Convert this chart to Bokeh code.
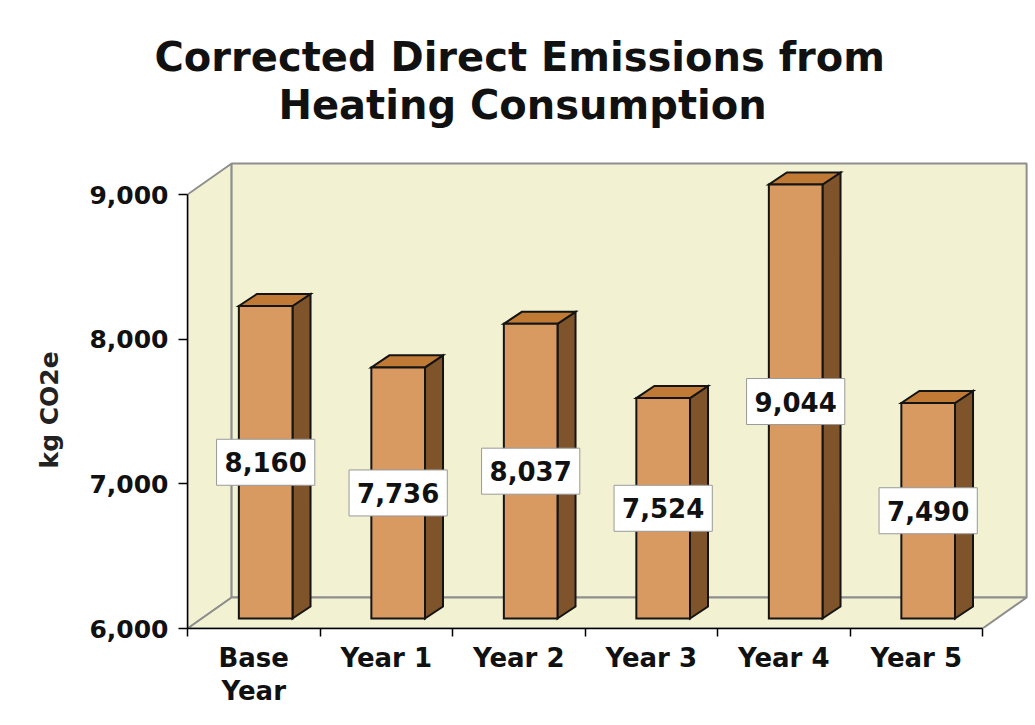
from bokeh.plotting import figure
from bokeh.models import (Range1d, FixedTicker, NumeralTickFormatter, LinearAxis,
                          Title, ColumnDataSource)
from bokeh.core.properties import value
from bokeh.embed import file_html
from bokeh.resources import INLINE

# ---------------- data ----------------
title_lines = ["Corrected Direct Emissions from", "Heating Consumption"]
categories = ["Base\nYear", "Year 1", "Year 2", "Year 3", "Year 4", "Year 5"]
emissions = [8160, 7736, 8037, 7524, 9044, 7490]
y_ticks = [6000, 7000, 8000, 9000]
y_label = "kg CO2e"

# ---------------- style / layout ----------------
FONT = "DejaVu Sans"
Y_MIN, Y_MAX = 6000, 9000
N = len(categories)

W, H = 1034, 724
FRAME_L, FRAME_R, FRAME_T, FRAME_B = 187, 1030, 127, 628
PX_PER_CAT = 132.5
PX_PER_VAL = 434 / 3000

WALL_DX, WALL_DY = 0.333, 214     # depth of the walls
BAR_DX, BAR_DY = 0.09, 69         # bar front face offset from the front plane
SIDE_DX, SIDE_DY = 0.136, 83      # bar depth
BAR_W = 0.405

WALL_FILL = "#F2F2D2"
WALL_LINE = "#8E8E8E"
FRONT = "#D99A62"
TOPC = "#C17A36"
SIDE = "#7F542A"
EDGE = "#141414"

x_end = (FRAME_R - FRAME_L) / PX_PER_CAT
y_end = Y_MIN + (FRAME_B - FRAME_T) / PX_PER_VAL

p = figure(width=W, height=H,
           x_range=Range1d(0, x_end), y_range=Range1d(Y_MIN, y_end),
           output_backend="svg", toolbar_location=None, title=None,
           min_border_left=FRAME_L, min_border_right=W - FRAME_R,
           min_border_top=FRAME_T, min_border_bottom=H - FRAME_B,
           x_axis_type=None, y_axis_type=None)
p.outline_line_color = None
p.background_fill_color = "white"
p.border_fill_color = "white"

# walls and floor
p.patch([0, 0, WALL_DX, WALL_DX],
        [Y_MIN, Y_MAX, Y_MAX + WALL_DY, Y_MIN + WALL_DY],
        fill_color=WALL_FILL, line_color=WALL_LINE, line_width=2)
p.patch([WALL_DX, N + WALL_DX, N + WALL_DX, WALL_DX],
        [Y_MIN + WALL_DY, Y_MIN + WALL_DY, Y_MAX + WALL_DY, Y_MAX + WALL_DY],
        fill_color=WALL_FILL, line_color=WALL_LINE, line_width=2)
p.patch([0, N, N + WALL_DX, WALL_DX],
        [Y_MIN, Y_MIN, Y_MIN + WALL_DY, Y_MIN + WALL_DY],
        fill_color=WALL_FILL, line_color=WALL_LINE, line_width=2)

# bars (clipped at the axis maximum, as in the source chart)
centers = [i + 0.5 for i in range(N)]
tops = [min(v, Y_MAX) + BAR_DY for v in emissions]
bottom = Y_MIN + BAR_DY
lefts = [c - BAR_W / 2 + BAR_DX for c in centers]
rights = [c + BAR_W / 2 + BAR_DX for c in centers]

side_xs = [[r, r + SIDE_DX, r + SIDE_DX, r] for r in rights]
side_ys = [[bottom, bottom + SIDE_DY, t + SIDE_DY, t] for t in tops]
top_xs = [[l, r, r + SIDE_DX, l + SIDE_DX] for l, r in zip(lefts, rights)]
top_ys = [[t, t, t + SIDE_DY, t + SIDE_DY] for t in tops]

p.patches(side_xs, side_ys, fill_color=SIDE, line_color=EDGE, line_width=2,
          line_join="miter")
p.patches(top_xs, top_ys, fill_color=TOPC, line_color=EDGE, line_width=2,
          line_join="miter")
p.quad(left=lefts, right=rights, bottom=bottom, top=tops,
       fill_color=FRONT, line_color=EDGE, line_width=2, line_join="miter")

# value labels
lab_src = ColumnDataSource(dict(
    x=[c + BAR_DX for c in centers],
    y=[(Y_MIN + min(v, Y_MAX)) / 2 + BAR_DY for v in emissions],
    text=[f"{v:,}" for v in emissions],
))
p.text(x="x", y="y", text="text", source=lab_src,
       text_align="center", text_baseline="middle",
       text_font=value(FONT), text_font_style="bold", text_font_size="26px",
       text_color="#111111", background_fill_color="white",
       border_line_color="#9A9A9A", border_line_width=1,
       padding=(8, 8, 13, 13))   # left, right, top, bottom

# axes
yaxis = LinearAxis(ticker=FixedTicker(ticks=y_ticks),
                   formatter=NumeralTickFormatter(format="0,0"),
                   bounds=(Y_MIN, Y_MAX),
                   major_tick_out=9, major_tick_in=0,
                   minor_tick_out=0, minor_tick_in=0,
                   major_label_standoff=10,
                   major_label_text_font=FONT, major_label_text_font_style="bold",
                   major_label_text_font_size="25px",
                   major_label_text_color="#111111",
                   axis_line_color="black", axis_line_width=1.5,
                   major_tick_line_color="black", major_tick_line_width=1.5)
p.add_layout(yaxis, "left")

# y axis title, placed along the value span of the axis
p.add_layout(Title(text=y_label, align="left", offset=160, standoff=46,
                   text_font=FONT, text_font_size="25px", text_font_style="bold",
                   text_color="#222222"), "left")

xaxis = LinearAxis(ticker=FixedTicker(ticks=centers, minor_ticks=list(range(N + 1))),
                   bounds=(0, N),
                   major_label_overrides={c: name for c, name in zip(centers, categories)},
                   major_tick_out=0, major_tick_in=0,
                   minor_tick_out=8, minor_tick_in=0,
                   major_label_standoff=6,
                   major_label_text_font=FONT, major_label_text_font_style="bold",
                   major_label_text_font_size="26px",
                   major_label_text_color="#111111",
                   major_label_text_line_height=1.1,
                   axis_line_color="black", axis_line_width=1.5,
                   minor_tick_line_color="black", minor_tick_line_width=1.5)
p.add_layout(xaxis, "below")

# chart title (two centred lines)
t2 = Title(text=title_lines[1], align="left", offset=91, standoff=0,
           text_font=FONT, text_font_size="40px", text_font_style="bold",
           text_color="#111111", text_line_height=1.15)
t1 = Title(text=title_lines[0], align="left", offset=-33, standoff=0,
           text_font=FONT, text_font_size="40px", text_font_style="bold",
           text_color="#111111")
p.add_layout(t2, "above")
p.add_layout(t1, "above")

open("out.html", "w").write(file_html(p, INLINE))
